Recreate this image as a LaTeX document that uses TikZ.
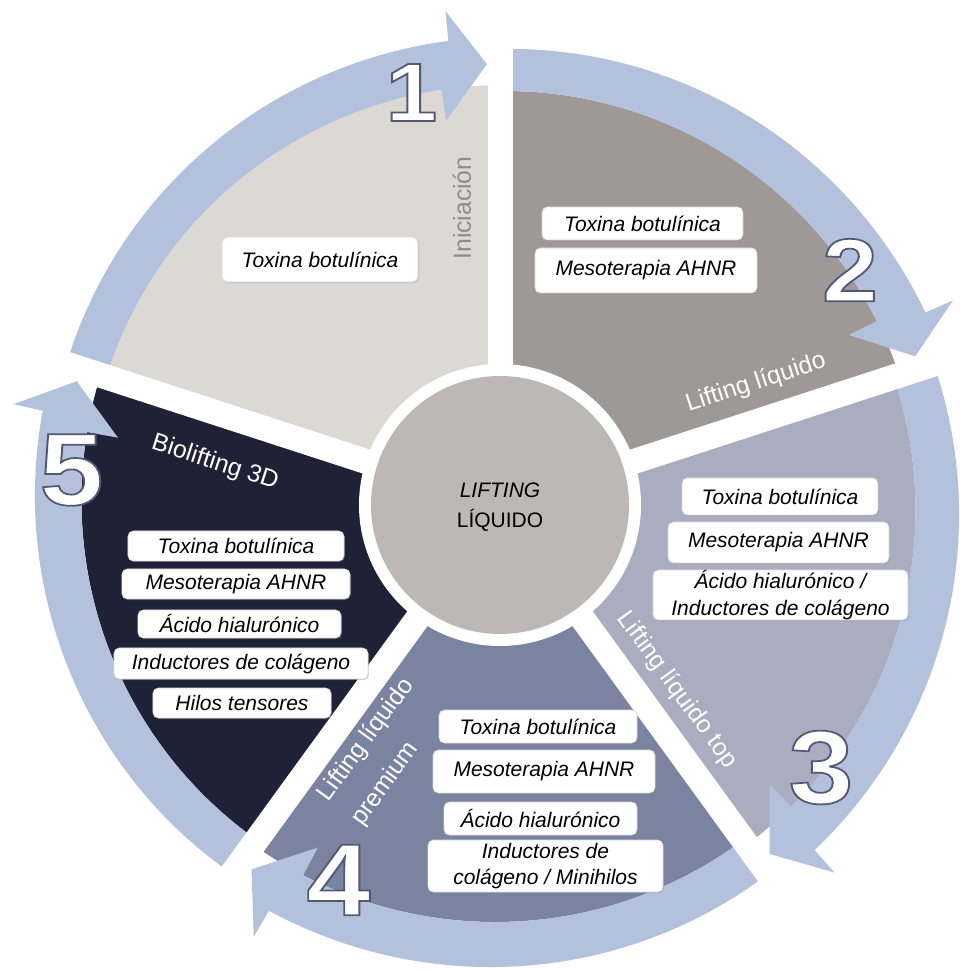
\documentclass[tikz,border=0pt]{standalone}
\usepackage{fontspec}
\setmainfont{Liberation Sans}
\usetikzlibrary{calc,shadows}
\definecolor{segA}{HTML}{DCD9D5}
\definecolor{segB}{HTML}{9E9896}
\definecolor{segC}{HTML}{A9ADBF}
\definecolor{segD}{HTML}{7A83A0}
\definecolor{segE}{HTML}{1F2136}
\definecolor{bandcol}{HTML}{B4C1DD}
\definecolor{centcol}{HTML}{BDB8B5}
\definecolor{inicol}{HTML}{8E8B89}
\tikzset{
  itembox/.style={draw=black!15, fill=white, rounded corners=4pt, line width=0.5pt,
    inner sep=0pt, align=center, font=\fontsize{15.75}{20}\selectfont\itshape,
    drop shadow={shadow xshift=0.8pt, shadow yshift=-0.8pt, opacity=0.35}},
  segtitle/.style={font=\fontsize{18.5}{31}\selectfont, inner sep=0pt},
  bignum/.style={inner sep=0pt, text=white, xscale=1.12},
}
% white digit, outlined in dark grey (fill + stroke render mode)
\newcommand{\bigdigit}[5]{%
  \node[bignum, font=\fontsize{#3}{#3}\selectfont\bfseries] (#5) at (#1,#2)
    {\special{pdf:literal direct 2 Tr 0.33 0.35 0.45 RG 1.3 w}#4\special{pdf:literal direct 0 Tr}};}
\newcommand{\itembox}[6]{%
  \node[itembox, minimum width=#3*0.75pt, minimum height=#4*0.75pt] (#5) at (#1,#2) {#6};}
\begin{document}
\begin{tikzpicture}[x=0.75pt,y=0.75pt]
\useasboundingbox (-500,-464) rectangle (460,505);
\fill[white] (-500,-464) rectangle (460,505);
% sectors
\foreach \s/\c in {162/segA, 90/segB, 18/segC, -54/segD, -126/segE}{
  \fill[\c] (0,0) -- plot[domain=0:1, samples=60] ({(\s)-72*\x}:{414+6*\x}) -- cycle;
}
% arrow bands with heads
\foreach \s in {162, 90, 18, -54, -126}{
  \pgfmathsetmacro{\e}{\s-72}
  \fill[bandcol]
    plot[domain=0:1, samples=60] ({(\e)+8+64*\x}:{414+6*(64-64*\x)/72})
    -- plot[domain=0:1, samples=60] ({(\s)-65.7*\x}:{456+12*(65.7*\x)/72})
    -- ({(\e)+6.3}:497) -- ({(\e)+1.7}:441) -- ({(\e)+8}:388) -- cycle;
}
% white gaps
\foreach \d in {90, 18, -54, -126, 162}{
  \draw[white, line width=18.75pt] (0,0) -- (\d:515);
}
% centre
\fill[white] (0,0) circle (141);
\node[circle, fill=centcol, minimum size=258*0.75pt, inner sep=0pt] (hub) at (0,0) {};
\node[align=center, font=\fontsize{15.75}{22.5}\selectfont, inner sep=0pt] (hubtext) at (0,-2) {\itshape LIFTING\\LÍQUIDO};
% titles
\node[segtitle, text=inicol, rotate=90] (t1) at (-38,297) {Iniciación};
\node[segtitle, text=white, rotate=18] (t2) at (256,122) {Lifting líquido};
\node[segtitle, text=white, rotate=-54] (t3) at (177,-185) {Lifting líquido top};
\node[segtitle, text=white, rotate=54, align=left] (t4) at (-117,-247) {Lifting líquido\\premium};
\node[segtitle, text=white, rotate=-18] (t5) at (-285,42) {Biolifting 3D};
% boxes segment 1
\itembox{-180}{245.5}{196}{45}{a1}{Toxina botulínica}
% segment 2
\itembox{142.5}{281.5}{201}{33}{b1}{Toxina botulínica}
\itembox{146}{234.5}{222}{45}{b2}{Mesoterapia AHNR}
% segment 3
\itembox{280}{8.5}{196}{37}{c1}{Toxina botulínica}
\itembox{278.5}{-37.5}{221}{41}{c2}{Mesoterapia AHNR}
\itembox{280.5}{-90}{255}{50}{c3}{Ácido hialurónico /\\Inductores de colágeno}
% segment 4
\itembox{38}{-221.5}{198}{33}{d1}{Toxina botulínica}
\itembox{44}{-266.5}{222}{43}{d2}{Mesoterapia AHNR}
\itembox{40.5}{-313.5}{193}{33}{d3}{Ácido hialurónico}
\itembox{45.5}{-361}{235}{52}{d4}{Inductores de\\colágeno / Minihilos}
% segment 5
\itembox{-264}{-41}{216}{30}{e1}{Toxina botulínica}
\itembox{-264}{-79}{228}{30}{e2}{Mesoterapia AHNR}
\itembox{-260.5}{-119}{203}{28}{e3}{Ácido hialurónico}
\itembox{-259}{-158.5}{254}{31}{e4}{Inductores de colágeno}
\itembox{-258}{-198}{178}{30}{e5}{Hilos tensores}
% digits
\bigdigit{-88.5}{412.5}{62}{1}{n1}
\bigdigit{350}{235}{67}{2}{n2}
\bigdigit{321}{-262.5}{78}{3}{n3}
\bigdigit{-161.5}{-375}{77}{4}{n4}
\bigdigit{-428.5}{35}{77}{5}{n5}
\end{tikzpicture}
\end{document}
